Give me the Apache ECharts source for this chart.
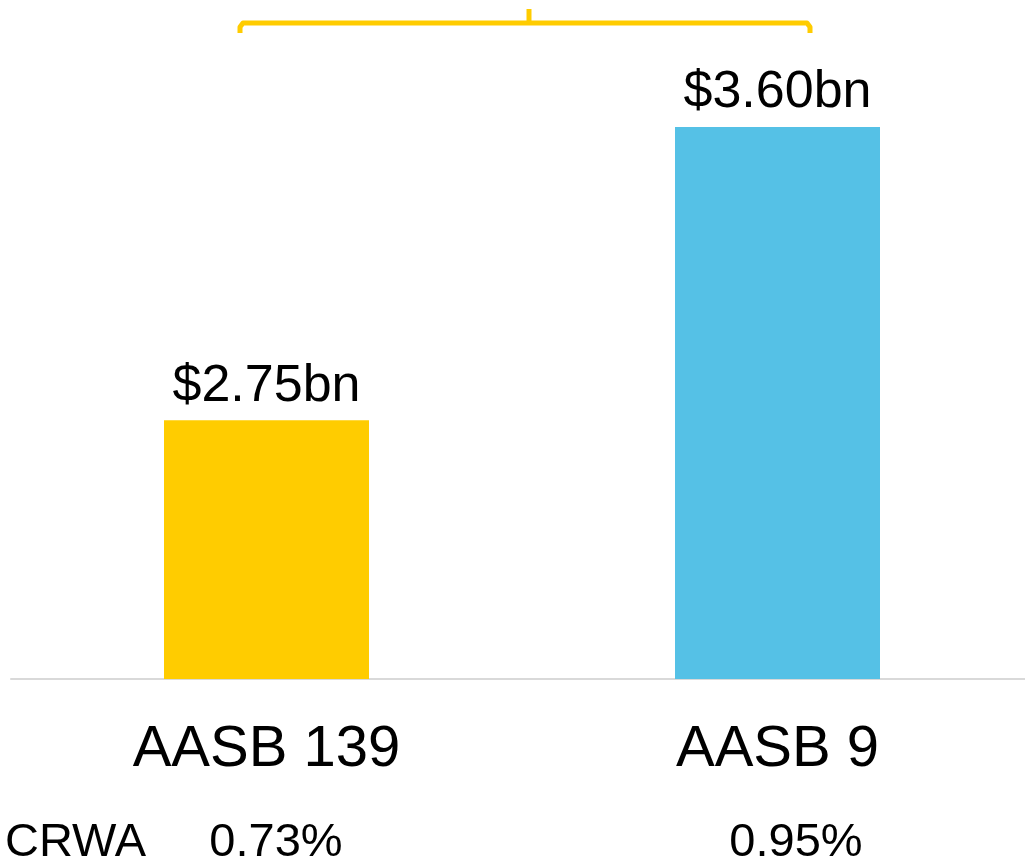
<!DOCTYPE html>
<html>
<head>
<meta charset="utf-8">
<script src="https://cdn.jsdelivr.net/npm/echarts@6/dist/echarts.min.js"></script>
<style>html,body{margin:0;padding:0;background:#fff;overflow:hidden}#c{width:1025px;height:857px}</style>
</head>
<body>
<div id="c"></div>
<script>
const categories = ['AASB 139', 'AASB 9'];
const provisions = [2.75, 3.60];
const valueLabels = ['$2.75bn', '$3.60bn'];
const crwaLabels = ['0.73%', '0.95%'];
const barColors = ['#FFCC00', '#55C1E6'];

const chart = echarts.init(document.getElementById('c'));
const FONT = 'Liberation Sans, Arial, sans-serif';
const bracketStyle = { stroke: '#FFCC00', lineWidth: 5, fill: null, lineJoin: 'round', lineCap: 'butt' };
chart.setOption({
  animation: false,
  backgroundColor: '#fff',
  grid: { left: 11, width: 1022, top: 58, bottom: 178, containLabel: false, outerBoundsMode: 'none' },
  xAxis: [{
    type: 'category', data: categories, position: 'bottom',
    axisLine: { lineStyle: { color: '#d9d9d9', width: 2 } },
    axisTick: { show: false },
    axisLabel: { fontFamily: FONT, fontSize: 58, color: '#000', margin: 42 }
  }, {
    type: 'category', data: crwaLabels, position: 'bottom', offset: 0,
    axisLine: { show: false }, axisTick: { show: false },
    axisLabel: {
      fontFamily: FONT, fontSize: 47, color: '#000', margin: 141,
      formatter: (v, i) => '{' + (i === 0 ? 'a' : 'b') + '|' + v + '}',
      rich: {
        a: { fontFamily: FONT, fontSize: 47, color: '#000', padding: [0, 0, 0, 19] },
        b: { fontFamily: FONT, fontSize: 47, color: '#000', padding: [0, 0, 0, 37] }
      }
    }
  }],
  yAxis: { type: 'value', min: 2, max: 3.8, show: false, splitLine: { show: false } },
  series: [{
    type: 'bar', barWidth: 205,
    data: provisions.map((v, i) => ({ value: v, itemStyle: { color: barColors[i] } })),
    label: {
      show: true, position: 'top', distance: 8, fontFamily: FONT, fontSize: 52, color: '#000',
      formatter: p => valueLabels[p.dataIndex]
    }
  }],
  graphic: [
    { type: 'text', x: 5, y: 820, style: { text: 'CRWA', fontFamily: FONT, fontSize: 47, fill: '#000' } },
    { type: 'polyline', shape: { points: [[240, 33], [240, 27], [243, 23], [807, 23], [810, 27], [810, 33]] }, style: bracketStyle },
    { type: 'line', shape: { x1: 529, y1: 23, x2: 529, y2: 9 }, style: bracketStyle }
  ]
});
</script>
</body>
</html>
